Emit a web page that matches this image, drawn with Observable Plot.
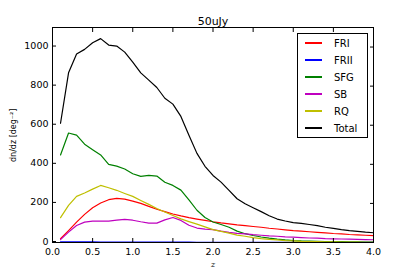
<!DOCTYPE html>
<html>
<head>
<meta charset="utf-8">
<script src="https://cdn.jsdelivr.net/npm/d3@7"></script>
<script src="https://cdn.jsdelivr.net/npm/@observablehq/plot@0.6"></script>
<style>
body { margin: 0; background: #fff; }
#wrap { position: relative; width: 415px; height: 277px; font-family: "DejaVu Sans", sans-serif; }
#legend { position: absolute; left: 297px; top: 33px; width: 69px; height: 103px; border: 1px solid #000; background: #fff; }
.item { position: absolute; left: 0; height: 16px; display: flex; align-items: center; font-size: 10px; color: #000; }
.item .sw { display: inline-block; width: 17px; height: 1.3px; margin-left: 7px; margin-right: 12px; }
</style>
</head>
<body>
<div id="wrap"></div>
<script>
const title = "50uJy";
const z = [0.1,0.2,0.3,0.4,0.5,0.6,0.7,0.8,0.9,1.0,1.1,1.2,1.3,1.4,1.5,1.6,1.7,1.8,1.9,2.0,
           2.1,2.2,2.3,2.4,2.5,2.6,2.7,2.8,2.9,3.0,3.1,3.2,3.3,3.4,3.5,3.6,3.7,3.8,3.9,4.0];
const FRI   = [19,61,104,144,178,202,219,226,222,212,200,185,170,158,146,136,127,120,113,106,
               100,95,90,86,82,78,73,69,65,61,58,55,52,49,46,44,41,39,37,35];
const FRII  = [3,3,3,3,3,2,2,2,2,2,2,2,2,2,2,2,2,1,1,1,1,1,1,1,1,1,1,1,1,1,1,1,1,1,1,1,1,1,1,1];
const SFG   = [448,560,549,503,475,448,400,391,376,352,338,343,340,308,292,268,218,165,128,105,
               92,78,58,45,36,28,22,17,13,10,8,7,6,5,4,4,3,3,2,2];
const SB    = [15,53,87,104,109,109,109,114,118,114,106,99,99,116,128,113,88,74,68,66,
               58,52,47,44,40,37,34,32,29,27,25,23,22,20,19,18,17,16,15,14];
const RQ    = [127,190,236,253,273,292,280,267,251,236,215,195,174,156,138,121,107,94,80,66,
               57,48,38,32,25,20,16,13,10,8,6,5,4,3,3,2,2,2,1,1];
const Total = [610,868,964,988,1022,1043,1010,1005,974,923,868,831,793,738,708,645,549,456,390,343,
               309,267,224,198,178,158,137,120,110,102,98,92,86,78,72,66,61,57,53,50];
const seriesNames = ["FRI","FRII","SFG","SB","RQ","Total"];
const seriesValues = [FRI, FRII, SFG, SB, RQ, Total];
const seriesColors = ["#ff0000","#0000ff","#008000","#bf00bf","#bfbf00","#000000"];
const xTicks = [0,0.5,1,1.5,2,2.5,3,3.5,4];
const yTicks = [0,200,400,600,800,1000];

const rows = [];
seriesNames.forEach((name, i) => z.forEach((zz, j) => rows.push({series: name, z: zz, v: seriesValues[i][j]})));

const font = "DejaVu Sans";
const chart = Plot.plot({
  width: 415, height: 277,
  marginLeft: 52, marginRight: 42, marginTop: 27, marginBottom: 35,
  style: {fontFamily: font, fontSize: "9.5px", color: "#000", background: "#fff"},
  x: {domain: [0, 4]},
  y: {domain: [0, 1100]},
  color: {domain: seriesNames, range: seriesColors},
  marks: [
    Plot.line(rows, {x: "z", y: "v", z: "series", stroke: "series", strokeWidth: 1.2}),
    Plot.frame({stroke: "#000", strokeWidth: 1}),
    Plot.axisX({ticks: xTicks, tickSize: -4, tickPadding: 10, tickFormat: d3.format(".1f"), label: null, fontSize: 9.5}),
    Plot.axisX({anchor: "top", ticks: xTicks, tickSize: -4, tickFormat: () => "", label: null}),
    Plot.axisY({ticks: yTicks, tickSize: -4, tickPadding: 8, dy: -1, tickFormat: d => String(d), label: null, fontSize: 9.5}),
    Plot.axisY({anchor: "right", ticks: yTicks, tickSize: -4, tickFormat: () => "", label: null}),
    Plot.text([title], {frameAnchor: "top", dy: -10, fontSize: 11, text: d => d}),
    Plot.text(["z"], {frameAnchor: "bottom", dy: 24, fontSize: 8, fontStyle: "italic", fontFamily: "DejaVu Serif", text: d => d}),
    Plot.text(["dn/dz [deg⁻²]"], {frameAnchor: "left", dx: -39, dy: 27, rotate: -90, fontSize: 8, text: d => d})
  ]
});
const wrap = document.getElementById("wrap");
wrap.appendChild(chart);

const legend = document.createElement("div");
legend.id = "legend";
seriesNames.forEach((name, i) => {
  const it = document.createElement("div");
  it.className = "item";
  it.style.top = (1 + i * 17) + "px";
  const sw = document.createElement("span");
  sw.className = "sw";
  sw.style.background = seriesColors[i];
  const lab = document.createElement("span");
  lab.textContent = name;
  it.appendChild(sw); it.appendChild(lab);
  legend.appendChild(it);
});
wrap.appendChild(legend);
</script>
</body>
</html>
